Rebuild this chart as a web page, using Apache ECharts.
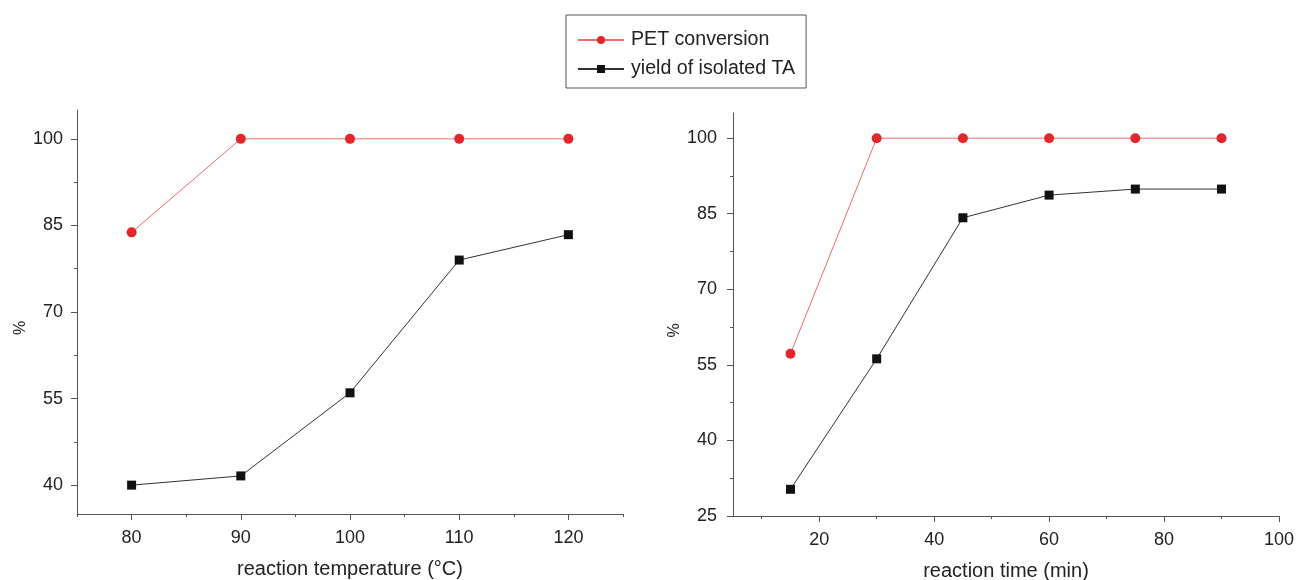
<!DOCTYPE html>
<html>
<head>
<meta charset="utf-8">
<script src="https://cdn.jsdelivr.net/npm/echarts@6/dist/echarts.min.js"></script>
<style>html,body{margin:0;padding:0;background:#fff}#c{width:1296px;height:580px}</style>
</head>
<body>
<div id="c"></div>
<script>
// Left panel: reaction temperature
const tempX = [80, 90, 100, 110, 120];
const tempConversion = [83.8, 100, 100, 100, 100];
const tempYield = [40, 41.6, 56, 79, 83.4];
// Right panel: reaction time
const timeX = [15, 30, 45, 60, 75, 90];
const timeConversion = [57.2, 100, 100, 100, 100, 100];
const timeYield = [30.3, 56.2, 84.2, 88.7, 89.9, 89.9];

const leftXMajor = [80, 90, 100, 110, 120];
const leftXMinor = [75, 85, 95, 105, 115, 125];
const leftYMajor = [40, 55, 70, 85, 100];
const leftYMinor = [47.5, 62.5, 77.5, 92.5];
const rightXMajor = [20, 40, 60, 80, 100];
const rightXMinor = [10, 30, 50, 70, 90];
const rightYMajor = [25, 40, 55, 70, 85, 100];
const rightYMinor = [32.5, 47.5, 62.5, 77.5, 92.5];

const seriesNames = ['PET conversion', 'yield of isolated TA'];

const axisCol = '#555';
const textCol = '#222';
const font = 'Liberation Sans, Arial, sans-serif';
const red = '#e3262b';

function labelAxis(min, max, ticks, name, gridIndex, pos, nameGap, margin, extra) {
  return Object.assign({
    type: 'value', gridIndex, min, max, position: pos,
    name, nameLocation: 'middle', nameGap,
    nameTextStyle: { color: textCol, fontSize: 20, fontFamily: font },
    axisLine: { show: true, lineStyle: { color: axisCol, width: 1 } },
    axisTick: { show: false },
    axisLabel: { customValues: ticks, color: textCol, fontSize: 18, fontFamily: font, margin },
    splitLine: { show: false }
  }, extra || {});
}
// tick-only axis; values nudged by a hair inward so that the renderer
// does not drop ticks coinciding with label values
function tickAxis(min, max, ticks, gridIndex, pos, len) {
  const eps = 1e-3;
  const vals = ticks.map(v => (v >= max ? v - eps : v + eps));
  return {
    type: 'value', gridIndex, min, max, position: pos,
    axisLine: { show: false },
    axisTick: { show: true, inside: false, length: len, customValues: vals, lineStyle: { color: axisCol } },
    axisLabel: { show: false, customValues: vals },
    splitLine: { show: false }
  };
}

function pairs(xs, ys) { return xs.map((x, i) => [x, ys[i]]); }

const chart = echarts.init(document.getElementById('c'), null, { renderer: 'canvas' });
chart.setOption({
  animation: false,
  backgroundColor: '#fff',
  legend: {
    left: 566, top: 15, orient: 'vertical',
    padding: [15, 11, 9, 11],
    itemGap: 9,
    itemWidth: 46, itemHeight: 10,
    borderColor: axisCol, borderWidth: 1,
    textStyle: { color: textCol, fontSize: 19.6, fontFamily: font, padding: [0, 0, 0, 2] },
    data: seriesNames
  },
  grid: [
    { left: 77, top: 110, right: 673, bottom: 66, containLabel: false, outerBoundsMode: 'none' },
    { left: 733, top: 113, right: 17, bottom: 64, containLabel: false, outerBoundsMode: 'none' }
  ],
  xAxis: [
    labelAxis(75, 125, leftXMajor, 'reaction temperature (\u00B0C)', 0, 'bottom', 45, 15),
    tickAxis(75, 125, leftXMajor, 0, 'bottom', 6),
    tickAxis(75, 125, leftXMinor, 0, 'bottom', 3),
    labelAxis(5, 100, rightXMajor, 'reaction time (min)', 1, 'bottom', 45, 15),
    tickAxis(5, 100, rightXMajor, 1, 'bottom', 6),
    tickAxis(5, 100, rightXMinor, 1, 'bottom', 3)
  ],
  yAxis: [
    labelAxis(35, 105, leftYMajor, '%', 0, 'left', 47, 14, { nameRotate: 90,
      nameTextStyle: { color: textCol, fontSize: 16, fontFamily: font, padding: [0, 32, 0, 0] } }),
    tickAxis(35, 105, leftYMajor, 0, 'left', 6),
    tickAxis(35, 105, leftYMinor, 0, 'left', 3),
    labelAxis(25, 105, rightYMajor, '%', 1, 'left', 50, 16, { nameRotate: 90,
      nameTextStyle: { color: textCol, fontSize: 16, fontFamily: font, padding: [0, 32, 0, 0] } }),
    tickAxis(25, 105, rightYMajor, 1, 'left', 6),
    tickAxis(25, 105, rightYMinor, 1, 'left', 3)
  ],
  series: [
    { name: seriesNames[0], type: 'line', xAxisIndex: 0, yAxisIndex: 0, data: pairs(tempX, tempConversion),
      symbol: 'circle', symbolSize: 10, lineStyle: { color: '#f06a6a', width: 1 }, itemStyle: { color: red }, z: 3 },
    { name: seriesNames[1], type: 'line', xAxisIndex: 0, yAxisIndex: 0, data: pairs(tempX, tempYield),
      symbol: 'rect', symbolSize: 9, lineStyle: { color: '#333', width: 1 }, itemStyle: { color: '#111' }, z: 3 },
    { name: seriesNames[0], type: 'line', xAxisIndex: 3, yAxisIndex: 3, data: pairs(timeX, timeConversion),
      symbol: 'circle', symbolSize: 10, lineStyle: { color: '#f06a6a', width: 1 }, itemStyle: { color: red }, z: 3 },
    { name: seriesNames[1], type: 'line', xAxisIndex: 3, yAxisIndex: 3, data: pairs(timeX, timeYield),
      symbol: 'rect', symbolSize: 9, lineStyle: { color: '#333', width: 1 }, itemStyle: { color: '#111' }, z: 3 }
  ]
});
</script>
</body>
</html>
